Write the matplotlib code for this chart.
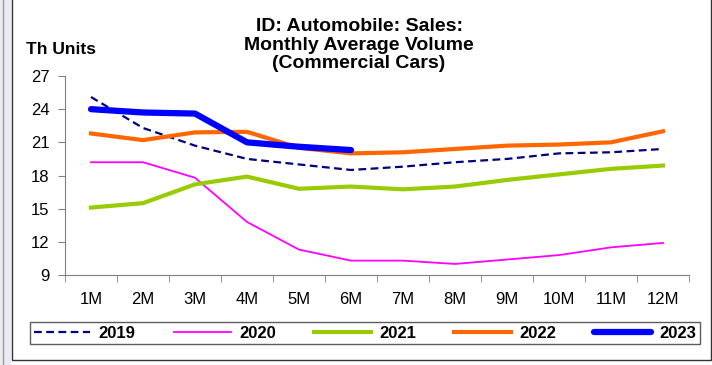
import matplotlib
matplotlib.use("Agg")
from matplotlib import pyplot as plt
from matplotlib.patches import Rectangle
from matplotlib.lines import Line2D

plt.rcParams['font.family'] = ['Liberation Sans', 'DejaVu Sans']

meses = ['1M', '2M', '3M', '4M', '5M', '6M', '7M', '8M', '9M', '10M', '11M', '12M']
v2019 = [25.1, 22.3, 20.7, 19.5, 19.0, 18.5, 18.8, 19.2, 19.5, 20.0, 20.1, 20.4]
v2020 = [19.2, 19.2, 17.8, 13.8, 11.3, 10.3, 10.3, 10.0, 10.4, 10.8, 11.5, 11.9]
v2021 = [15.1, 15.5, 17.2, 17.9, 16.8, 17.0, 16.75, 17.0, 17.6, 18.1, 18.6, 18.9]
v2022 = [21.8, 21.2, 21.9, 21.95, 20.5, 20.0, 20.1, 20.4, 20.7, 20.8, 21.0, 22.0]
v2023 = [24.0, 23.7, 23.6, 21.0, 20.6, 20.3]
yticks = [9, 12, 15, 18, 21, 24, 27]

W, H = 712, 365
fig = plt.figure(figsize=(W / 100, H / 100), dpi=100)

# marco exterior y franja lateral
fig.patches.append(Rectangle((0, 0), 11 / W, 1, transform=fig.transFigure,
                             facecolor='#eceaf5', edgecolor='none', zorder=-3))
fig.lines.append(Line2D([3 / W, 3 / W], [0, 1], transform=fig.transFigure,
                        color='#9a9a9a', lw=1, zorder=-2))
fig.patches.append(Rectangle((12 / W, 5 / H), 699 / W, 1, transform=fig.transFigure,
                             facecolor='white', edgecolor='#333333', lw=1, zorder=-1))

ax = fig.add_axes([65 / W, 1 - 275 / H, 624 / W, 199 / H])
ax.set_facecolor('none')
x = range(len(meses))

ax.plot(x, v2019, color='#000080', lw=1.6, ls=(0, (3.5, 2)), label='2019')
ax.plot(x, v2020, color='#ff00ff', lw=1.3, label='2020')
ax.plot(x, v2021, color='#99cc00', lw=3, label='2021')
ax.plot(x, v2022, color='#ff6600', lw=3, label='2022')
ax.plot(range(len(v2023)), v2023, color='#0000ff', lw=4.5, solid_capstyle='round', label='2023')

ax.set_xlim(-0.5, len(meses) - 0.5)
ax.set_ylim(9, 27)
ax.set_yticks(yticks)
ax.set_yticklabels([str(t) for t in yticks], fontsize=12)
ax.set_xticks(list(x))
ax.set_xticklabels(meses, fontsize=12)
ax.set_xticks([i - 0.5 for i in range(len(meses) + 1)], minor=True)
ax.tick_params(axis='x', which='major', length=0, pad=12)
ax.tick_params(axis='x', which='minor', length=5, color='#808080')
ax.tick_params(axis='y', length=5, color='#808080', pad=6)
for s in ['top', 'right']:
    ax.spines[s].set_visible(False)
for s in ['left', 'bottom']:
    ax.spines[s].set_color('#808080')

fig.text(26 / W, 1 - 50 / H, 'Th Units', fontsize=12.5, fontweight='bold', va='center', ha='left')
fig.text(359 / W, 1 - 45 / H, 'ID: Automobile: Sales:\nMonthly Average Volume\n(Commercial Cars)',
         fontsize=14, fontweight='bold', ha='center', va='center', linespacing=1.12)

leg = fig.legend(loc='center', bbox_to_anchor=(365 / W, 1 - 333 / H), ncol=5,
                 prop={'weight': 'bold', 'size': 12}, handlelength=3.4, columnspacing=2.3,
                 frameon=True, fancybox=False, borderpad=0.2, handletextpad=0.5)
leg.get_frame().set_edgecolor('#333333')
leg.get_frame().set_linewidth(1)

fig.savefig('out.png', dpi=100)
